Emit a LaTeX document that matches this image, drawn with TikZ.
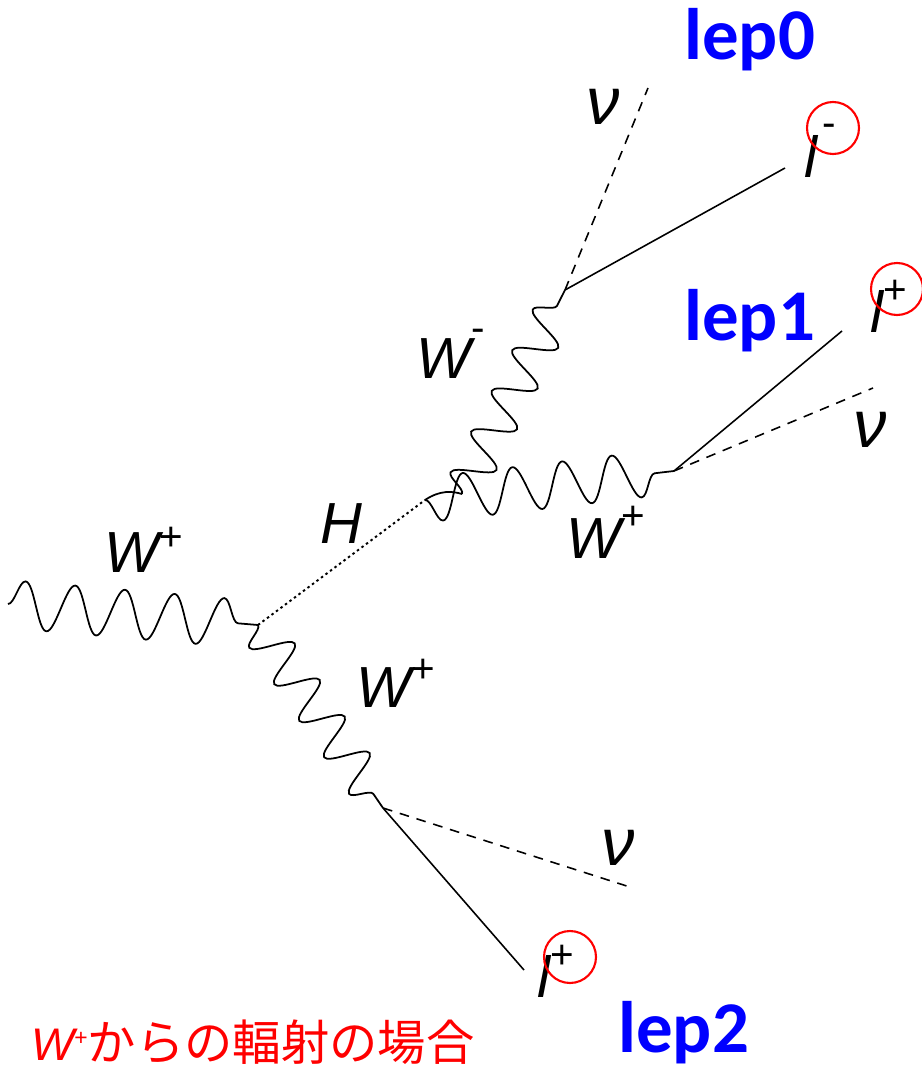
\documentclass[tikz,border=0pt]{standalone}
\usepackage{fontspec}
\setmainfont{Liberation Sans}
\newfontfamily\lepfont{Carlito}
\newfontfamily\cjk{Noto Sans CJK JP}
\usetikzlibrary{decorations.pathmorphing}
\definecolor{lepblue}{RGB}{0,0,255}
\definecolor{markred}{RGB}{255,0,0}
\newcommand\supr[2]{\raisebox{#1}{\fontsize{23}{23}\selectfont\upshape #2}}
\begin{document}
\begin{tikzpicture}[x=0.02cm,y=-0.02cm,
  lab/.style={font=\fontsize{33}{33}\selectfont\itshape, anchor=base west, inner sep=0pt},
  nulab/.style={font=\fontsize{38}{38}\selectfont\itshape, anchor=base west, inner sep=0pt},
  leplab/.style={font=\fontsize{41.5}{41.5}\selectfont\lepfont\bfseries, text=lepblue, anchor=base west, inner sep=0pt},
  fermion/.style={line width=0.9pt},
  neutrino/.style={line width=0.9pt, dash pattern=on 5.5pt off 4.5pt},
  higgs/.style={line width=1.1pt, dash pattern=on 1.4pt off 1.8pt},
  wave/.style 2 args={line width=1pt, decorate, decoration={snake, amplitude=#1, segment length=#2}},
  wavem/.style 2 args={line width=1pt, decorate, decoration={snake, mirror, amplitude=#1, segment length=#2}},
  ring/.style={circle, draw=markred, line width=1.2pt, minimum size=1.04cm, inner sep=0pt}
]
\useasboundingbox (0,0) rectangle (922,1068);

% vertices
\coordinate (win) at (8,604);
\coordinate (v1) at (258,625);
\coordinate (hv) at (425,500);
\coordinate (wmS) at (462,494);
\coordinate (wmv) at (565,290);
\coordinate (wpv) at (674,471);
\coordinate (lv) at (383,808);
% free ends
\coordinate (nu0) at (648,88);
\coordinate (lm0) at (785,168);
\coordinate (lp1) at (842,331);
\coordinate (nu1) at (873,388);
\coordinate (nu2) at (633,888);
\coordinate (lp2) at (524,970);

% propagators
\draw[wave={0.48cm}{0.998cm}] (win) -- (v1);
\draw[higgs] (v1) -- (hv);
\draw[wavem={0.4cm}{0.885cm}] (v1) -- (lv);
\draw[line width=1pt] (hv) .. controls (440,490) and (452,491) .. (wmS);
\draw[wave={0.4cm}{0.912cm}] (wmS) -- (wmv);
\draw[wavem={0.45cm}{1.0cm}] (hv) -- (wpv);

% external legs
\draw[neutrino] (wmv) -- (nu0);
\draw[fermion] (wmv) -- (lm0);
\draw[fermion] (wpv) -- (lp1);
\draw[neutrino] (wpv) -- (nu1);
\draw[neutrino] (lv) -- (nu2);
\draw[fermion] (lv) -- (lp2);

% labels
\node[lab] (tWin) at (104,572) {W\supr{12pt}{+}};
\node[lab] (tH) at (320,543) {H};
\node[lab] (tWm) at (416,378) {W\supr{21pt}{-}};
\node[lab] (tWp) at (566,558) {W\supr{16pt}{+}};
\node[lab] (tWl) at (356,707) {W\supr{14pt}{+}};
\node[nulab] (tnu0) at (586,125) {ν};
\node[nulab] (tnu1) at (853,447) {ν};
\node[nulab] (tnu2) at (601,865) {ν};
\node[lab] (tlm) at (804,177) {l\kern3pt\supr{23pt}{-}};
\node[lab] (tlp1) at (870,332) {l\supr{16pt}{+}};
\node[lab] (tlp2) at (537,997) {l\supr{16pt}{+}};

% rings
\node[ring] (r0) at (833,128) {};
\node[ring] (r1) at (897,289) {};
\node[ring] (r2) at (570,957) {};

% lepton names
\node[leplab] (lep0) at (684,60) {lep0};
\node[leplab] (lep1) at (684,340) {lep1};
\node[leplab] (lep2) at (618,1052) {lep2};

% caption
\node[anchor=base west, inner sep=0pt, text=markred] (note) at (31,1060)
  {\fontsize{26}{26}\selectfont\itshape W\raisebox{8pt}{\fontsize{13}{13}\selectfont\upshape +}\upshape\cjk\fontsize{27.5}{27.5}\selectfont からの輻射の場合};
\end{tikzpicture}
\end{document}
